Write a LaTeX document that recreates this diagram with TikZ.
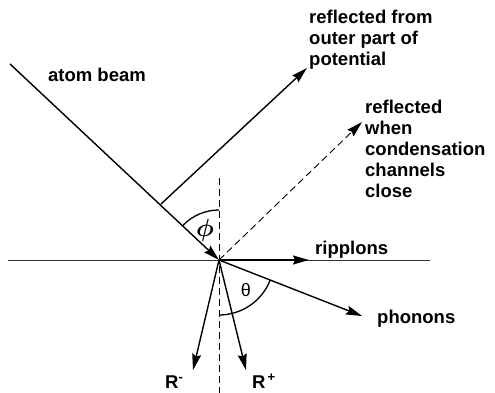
\documentclass[tikz,border=0pt]{standalone}
\usepackage{fontspec}
\setmainfont{Liberation Sans}
\usepackage{amsmath}
\usepackage{bm}
\usetikzlibrary{arrows.meta}

\begin{document}
\begin{tikzpicture}[
    x=1pt, y=-1pt,
    ray/.style={-{Stealth[length=16pt, width=9pt, inset=2pt]}, line width=1.4pt, black},
    guide/.style={dash pattern=on 7pt off 4pt, line width=0.9pt},
    lbl/.style={font=\fontsize{18.5}{21}\selectfont\bfseries, inner sep=0pt, align=left}
]
\useasboundingbox (0,0) rectangle (495,393);

% Impact point and ray ends
\coordinate (O) at (219,260);
\coordinate (beamstart) at (10,64);
\coordinate (outerfoot) at (161,204);
\coordinate (outertip) at (307,68);
\coordinate (condtip) at (362,122);
\coordinate (surfleft) at (8,260);
\coordinate (surfright) at (430,260);
\coordinate (riptip) at (309,260);
\coordinate (phontip) at (362,316);
\coordinate (rmtip) at (193,370);
\coordinate (rptip) at (246,370);
\coordinate (normtop) at (219,178);
\coordinate (normbot) at (219,393);

% Surface and normal
\draw[line width=1pt, black!80] (surfleft) -- (surfright);
\draw[guide] (normtop) -- (normbot);

% Incoming beam and reflected rays
\draw[ray] (beamstart) -- (O);
\draw[ray] (outerfoot) -- (outertip);
\draw[ray, dash pattern=on 7pt off 4pt, line width=0.9pt] (O) -- (condtip);

% Excitations
\draw[ray] (O) -- (riptip);
\draw[ray] (O) -- (phontip);
\draw[ray] (O) -- (rmtip);
\draw[ray] (O) -- (rptip);

% Angles
\draw[line width=1.3pt] ([shift={(223.2:50)}]O) arc[start angle=223.2, end angle=270, radius=50];
\draw[line width=1.3pt] ([shift={(90:55)}]O) arc[start angle=90, end angle=21.4, radius=55];
\node[font=\fontsize{23}{23}\selectfont] (phi) at (205,230) {$\bm{\phi}$};
\node[font=\fontsize{18}{18}\selectfont] (theta) at (246,290) {θ};

% Labels
\node[lbl] (beamlbl) at (97,75) {atom beam};
\node[lbl, anchor=north west] (outerlbl) at (309,10) {reflected from\\outer part of\\potential};
\node[lbl, anchor=north west] (condlbl) at (365,100) {reflected\\when\\condensation\\channels\\close};
\node[lbl, anchor=base west] (riplbl) at (315,254) {ripplons};
\node[lbl, anchor=base west] (phonlbl) at (377,323) {phonons};
\node[lbl, anchor=base west] (rmlbl) at (165,388) {R\textsuperscript{-}};
\node[lbl, anchor=base west] (rplbl) at (252,388) {R\textsuperscript{\,+}};

\end{tikzpicture}
\end{document}
